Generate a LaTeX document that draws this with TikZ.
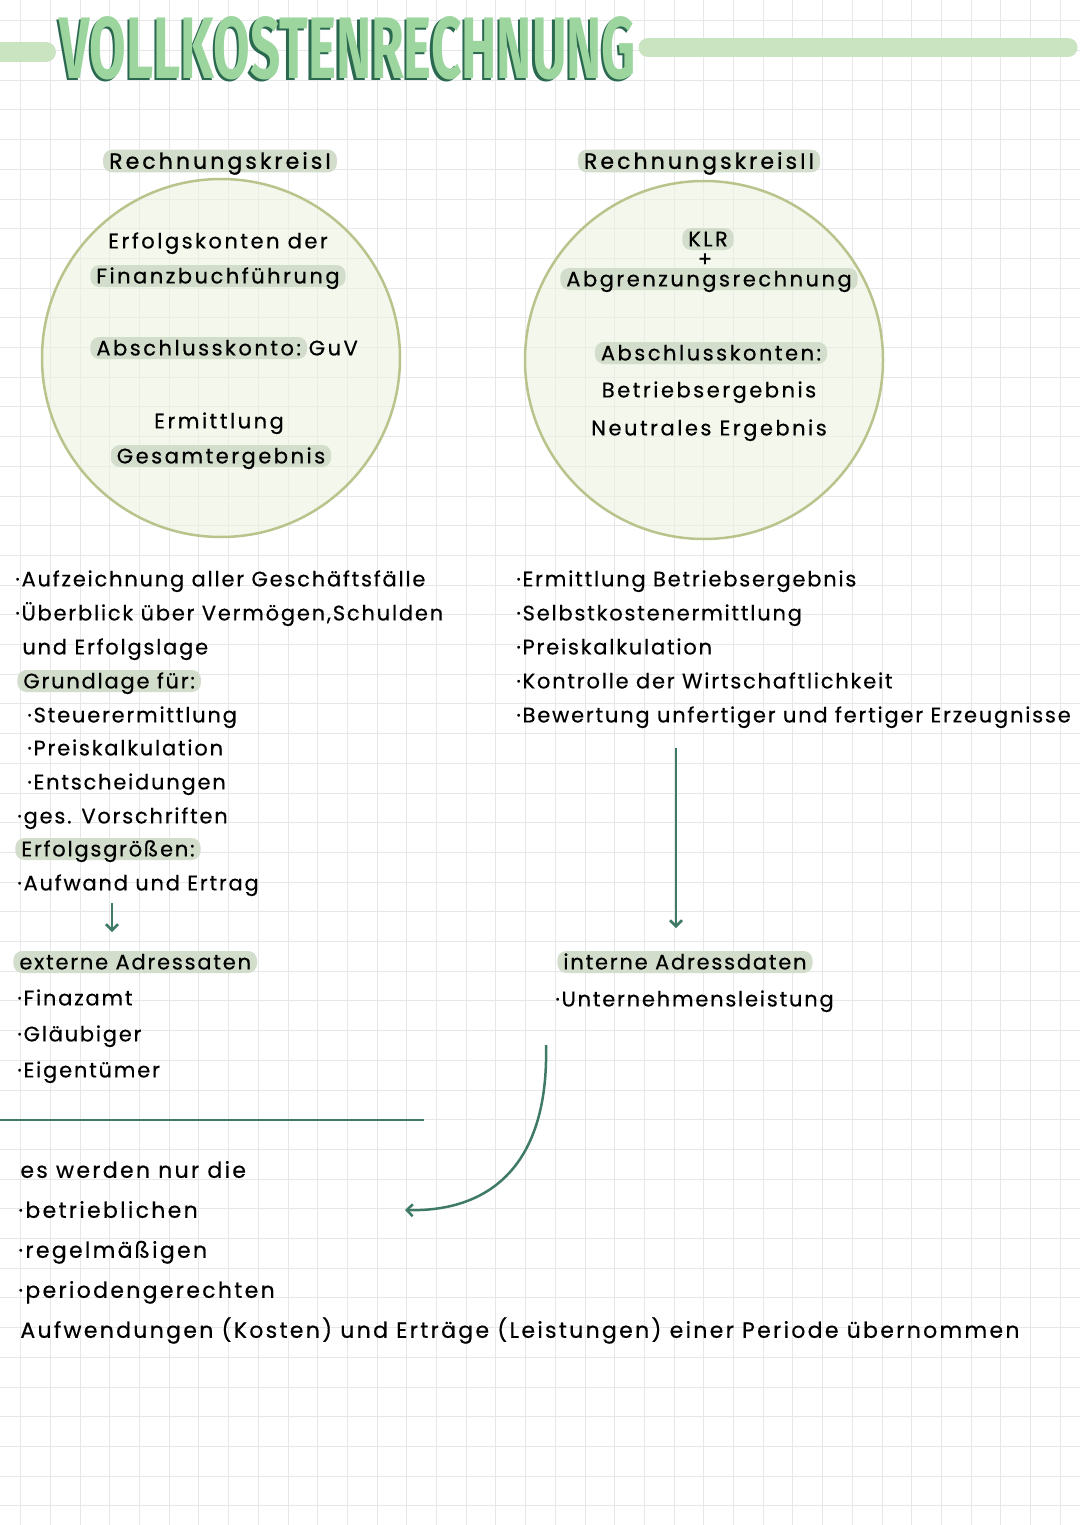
\documentclass[tikz,border=0pt]{standalone}
\usepackage{fontspec}
\usetikzlibrary{arrows.meta}
\newfontfamily\hand[LetterSpace=8.5,FakeBold=0.4]{Poppins}
\newfontfamily\handc[LetterSpace=12,FakeBold=0.5]{Poppins}
\newfontfamily\handl[LetterSpace=14,FakeBold=1]{Poppins}
\newfontfamily\handb[LetterSpace=10.5,FakeBold=0.4]{Poppins}
\newfontfamily\titlefont{Fira Sans}
\definecolor{gridc}{RGB}{229,231,233}
\definecolor{kfill}{RGB}{236,242,224}
\definecolor{kline}{RGB}{184,196,140}
\definecolor{hlc}{RGB}{211,221,204}
\definecolor{dgreen}{RGB}{62,122,102}
\definecolor{tlight}{RGB}{156,214,158}
\definecolor{tdark}{RGB}{42,104,80}
\definecolor{tbar}{RGB}{202,228,194}
\begin{document}
\begin{tikzpicture}[x=0.5pt,y=-0.5pt,
  txt/.style={font=\hand\fontsize{10.5}{12}\selectfont, inner sep=0pt, text height=7.4pt, text depth=0pt},
  circ/.style={font=\handc\fontsize{10.5}{12}\selectfont, inner sep=0pt, text height=7.4pt, text depth=0pt},
  lab/.style={font=\handl\fontsize{11}{12}\selectfont, inner sep=0pt, text height=7.8pt, text depth=0pt},
  big/.style={font=\handb\fontsize{11}{13}\selectfont, inner sep=0pt, text height=7.8pt, text depth=0pt},
  hl/.style={fill=hlc, rounded corners=4.5pt, inner xsep=3pt, inner ysep=1.8pt},
  kreis/.style={circle, draw=kline, line width=1.25pt, fill=kfill, fill opacity=0.6, text opacity=1, minimum size=179pt, inner sep=0pt},
  conn/.style={draw=dgreen, line width=1.25pt},
  arr/.style={conn, -{Straight Barb[length=3pt,width=6pt]}}
]
\useasboundingbox (0,0) rectangle (1080,1525);
\fill[white] (0,0) rectangle (1080,1525);
% grid
\foreach \i in {0,...,36} \draw[gridc, line width=0.5pt] ({20.7+\i*29.7},0) -- ({20.7+\i*29.7},1525);
\foreach \j in {0,...,51} \draw[gridc, line width=0.5pt] (0,{20.8+\j*29.7}) -- (1080,{20.8+\j*29.7});

% title
\draw[tbar, line width=10pt, line cap=round] (-10,52) -- (46,52);
\draw[tbar, line width=9.5pt, line cap=round] (648,47.5) -- (1068,47.5);
\node[inner sep=0pt, anchor=south west, text=tdark] (titleshadow) at (57,82)
  {\resizebox{288pt}{31pt}{\titlefont\bfseries VOLLKOSTENRECHNUNG}};
\node[inner sep=0pt, anchor=south west, text=tlight] (title) at (59.5,80.5)
  {\resizebox{288pt}{31pt}{\titlefont\bfseries VOLLKOSTENRECHNUNG}};

% circles
\node[kreis] (k1) at (221,358) {};
\node[kreis] (k2) at (704,360) {};

% labels
\node[lab, hl] (rk1) at (220,161) {RechnungskreisI};
\node[lab, hl] (rk2) at (699,161) {RechnungskreisII};

% circle I
\node[circ] (c1a) at (218,241) {Erfolgskonten der};
\node[circ, hl] (c1b) at (218,276) {Finanzbuchführung};
\node[circ, hl, anchor=west] (c1c) at (90,348) {Abschlusskonto:};
\node[circ, anchor=west] (c1g) at ([xshift=0.5pt]c1c.east) {GuV};
\node[circ] (c1d) at (219,421) {Ermittlung};
\node[circ, hl] (c1e) at (221,456) {Gesamtergebnis};

% circle II
\node[circ, hl] (c2a) at (708,239) {KLR};
\node[circ] (c2p) at (705,259) {+};
\node[circ, hl] (c2b) at (709,279) {Abgrenzungsrechnung};
\node[circ, hl] (c2c) at (711,353) {Abschlusskonten:};
\node[circ] (c2d) at (709,390) {Betriebsergebnis};
\node[circ] (c2e) at (709,428) {Neutrales Ergebnis};

% left block
\node[txt, anchor=west] (l1) at (15,579) {·Aufzeichnung aller Geschäftsfälle};
\node[txt, anchor=west] (l2) at (15,613) {·Überblick über Vermögen,Schulden};
\node[txt, anchor=west] (l3) at (22,647) {und Erfolgslage};
\node[txt, hl, anchor=west] (l4) at (17,681) {Grundlage für:};
\node[txt, anchor=west] (l5) at (27,715) {·Steuerermittlung};
\node[txt, anchor=west] (l6) at (27,748) {·Preiskalkulation};
\node[txt, anchor=west] (l7) at (27,782) {·Entscheidungen};
\node[txt, anchor=west] (l8) at (17,816) {·ges. Vorschriften};
\node[txt, hl, anchor=west] (l9) at (15,849) {Erfolgsgrößen:};
\node[txt, anchor=west] (l10) at (17,883) {·Aufwand und Ertrag};

\coordinate (a1s) at (112,903);
\coordinate (a1e) at (112,932);
\draw[arr] (a1s) -- (a1e);

\node[txt, hl, anchor=west] (ext) at (13,962) {externe Adressaten};
\node[txt, anchor=west] (e1) at (17,998) {·Finazamt};
\node[txt, anchor=west] (e2) at (17,1034) {·Gläubiger};
\node[txt, anchor=west] (e3) at (17,1070) {·Eigentümer};

% right block
\node[txt, anchor=west] (r1) at (516,579) {·Ermittlung Betriebsergebnis};
\node[txt, anchor=west] (r2) at (516,613) {·Selbstkostenermittlung};
\node[txt, anchor=west] (r3) at (516,647) {·Preiskalkulation};
\node[txt, anchor=west] (r4) at (516,681) {·Kontrolle der Wirtschaftlichkeit};
\node[txt, anchor=west] (r5) at (516,715) {·Bewertung unfertiger und fertiger Erzeugnisse};

\coordinate (a2s) at (676,748);
\coordinate (a2e) at (676,928);
\draw[arr] (a2s) -- (a2e);

\node[txt, hl, anchor=west] (int) at (557,962) {interne Adressdaten};
\node[txt, anchor=west] (i1) at (555,999) {·Unternehmensleistung};

% separator
\coordinate (sepa) at (0,1120);
\coordinate (sepb) at (424,1120);
\draw[conn] (sepa) -- (sepb);

% curved arrow
\coordinate (a3s) at (546,1045);
\coordinate (a3e) at (405,1210);
\draw[arr] (a3s) .. controls (549,1165) and (490,1212) .. (a3e);

% bottom block
\node[big, anchor=west] (b0) at (20,1170) {es werden nur die};
\node[big, anchor=west] (b1) at (18,1210) {·betrieblichen};
\node[big, anchor=west] (b2) at (18,1250) {·regelmäßigen};
\node[big, anchor=west] (b3) at (18,1290) {·periodengerechten};
\node[big, anchor=west] (b4) at (20,1330) {Aufwendungen (Kosten) und Erträge (Leistungen) einer Periode übernommen};
\end{tikzpicture}
\end{document}
